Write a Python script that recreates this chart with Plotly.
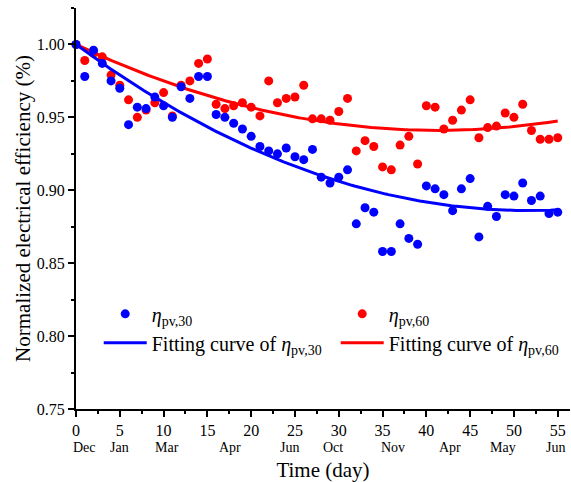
import numpy as np
import plotly.graph_objects as go

# Daily test index
days = list(range(56))

# Normalized electrical efficiency, 30 deg tilt
eta_pv30 = [1.000, 0.978, 0.996, 0.987, 0.975, 0.970, 0.945, 0.957, 0.956, 0.964,
            0.958, 0.950, 0.971, 0.963, 0.978, 0.978, 0.952, 0.950, 0.946, 0.942,
            0.937, 0.930, 0.927, 0.925, 0.929, 0.923, 0.921, 0.928, 0.909, 0.905,
            0.909, 0.914, 0.877, 0.888, 0.885, 0.858, 0.858, 0.877, 0.867, 0.863,
            0.903, 0.901, 0.897, 0.886, 0.901, 0.908, 0.868, 0.889, 0.882, 0.897,
            0.896, 0.905, 0.893, 0.896, 0.884, 0.885]

# Normalized electrical efficiency, 60 deg tilt
eta_pv60 = [1.000, 0.989, 0.994, 0.9915, 0.979, 0.972, 0.962, 0.950, 0.955, 0.960,
            0.967, 0.951, 0.972, 0.975, 0.987, 0.990, 0.959, 0.956, 0.958, 0.960,
            0.957, 0.951, 0.975, 0.960, 0.963, 0.964, 0.972, 0.949, 0.949, 0.948,
            0.954, 0.963, 0.927, 0.934, 0.930, 0.916, 0.914, 0.931, 0.937, 0.918,
            0.958, 0.957, 0.942, 0.948, 0.955, 0.962, 0.936, 0.943, 0.944, 0.953,
            0.950, 0.959, 0.941, 0.935, 0.935, 0.936]

# Month markers along the time axis
month_labels = ["Dec", "Jan", "Mar", "Apr", "Jun", "Oct", "Nov", "Apr", "May", "Jun"]
month_pos = [1.0, 5.0, 10.4, 17.6, 24.4, 29.3, 36.2, 42.7, 48.7, 54.7]

BLUE = "#0000FF"
RED = "#FF0000"
FONT = "Liberation Serif"


def anchored_fit(x, y, degree):
    """Least-squares polynomial forced through the normalized start value (0, 1)."""
    x = np.asarray(x, float)
    y = np.asarray(y, float)
    basis = np.column_stack([x ** k for k in range(1, degree + 1)])
    coef, *_ = np.linalg.lstsq(basis, y - 1.0, rcond=None)
    xs = np.linspace(0, 55, 200)
    ys = 1.0 + np.column_stack([xs ** k for k in range(1, degree + 1)]) @ coef
    return xs, ys


x30, fit30 = anchored_fit(days, eta_pv30, 2)
x60, fit60 = anchored_fit(days, eta_pv60, 2)

fig = go.Figure()

fig.add_trace(go.Scatter(
    x=days, y=eta_pv60, mode="markers", cliponaxis=False,
    marker=dict(color=RED, size=9),
    name="<i>η</i><sub>pv,60</sub>", legendrank=2))
fig.add_trace(go.Scatter(
    x=x60, y=fit60, mode="lines",
    line=dict(color=RED, width=3),
    name="Fitting curve of <i>η</i><sub>pv,60</sub>", legendrank=4))
fig.add_trace(go.Scatter(
    x=days, y=eta_pv30, mode="markers", cliponaxis=False,
    marker=dict(color=BLUE, size=9),
    name="<i>η</i><sub>pv,30</sub>", legendrank=1))
fig.add_trace(go.Scatter(
    x=x30, y=fit30, mode="lines",
    line=dict(color=BLUE, width=3),
    name="Fitting curve of <i>η</i><sub>pv,30</sub>", legendrank=3))

for lab, pos in zip(month_labels, month_pos):
    fig.add_annotation(x=pos, y=-0.095, xref="x", yref="paper",
                       text=lab, showarrow=False, yanchor="middle",
                       font=dict(family=FONT, size=14, color="black"))

axis_common = dict(
    showline=True, linecolor="black", linewidth=2,
    ticks="outside", ticklen=6, tickwidth=2, tickcolor="black",
    showgrid=False, zeroline=False, mirror=False,
    tickfont=dict(family=FONT, size=16, color="black"),
)

fig.update_xaxes(
    range=[0, 56.4], dtick=5, tick0=0,
    minor=dict(ticks="outside", ticklen=3, tickwidth=2, tickcolor="black", dtick=2.5),
    title=dict(text="Time (day)", font=dict(family=FONT, size=21, color="black"), standoff=26),
    **axis_common)
fig.update_yaxes(
    range=[0.75, 1.025], dtick=0.05, tick0=0.75, tickformat=".2f",
    minor=dict(ticks="outside", ticklen=3, tickwidth=2, tickcolor="black", dtick=0.025),
    title=dict(text="Normalized electrical efficiency (%)",
               font=dict(family=FONT, size=21, color="black"), standoff=0),
    **axis_common)

fig.update_layout(
    width=571, height=482,
    margin=dict(l=76, r=1, t=8, b=73, autoexpand=False),
    paper_bgcolor="white", plot_bgcolor="white",
    font=dict(family=FONT, color="black"),
    showlegend=True,
    legend=dict(orientation="h", x=0.046, y=0.286, xanchor="left", yanchor="top",
                entrywidth=179, itemwidth=43, traceorder="normal",
                bgcolor="rgba(0,0,0,0)",
                font=dict(family=FONT, size=20, color="black")),
)

fig.write_html("out.html")
